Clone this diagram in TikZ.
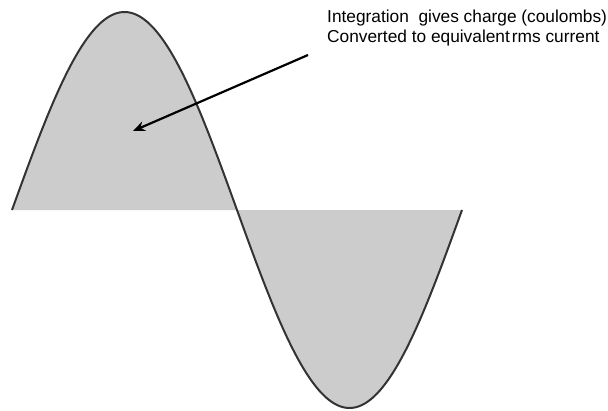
\documentclass[tikz,border=0pt]{standalone}
\usepackage{fontspec}
\setmainfont{Liberation Sans}
\usetikzlibrary{arrows.meta}
\definecolor{wavefill}{HTML}{CCCCCC}
\definecolor{wavestroke}{HTML}{333333}
\tikzset{
  wave/.style={draw=wavestroke, line width=2pt, line join=round},
  pointer/.style={draw=black, line width=2.2pt, -{Stealth[length=12pt,width=10pt]}},
  label/.style={font=\fontsize{17.3}{20.2}\selectfont, align=left, anchor=north west, inner sep=0pt}
}
\begin{document}
\begin{tikzpicture}[x=1pt,y=-1pt]
\useasboundingbox (0,0) rectangle (608,410);
\fill[wavefill] plot[domain=12:462, samples=181, smooth] (\x, {210-198*sin(0.8*(\x-12))}) -- cycle;
\draw[wave] plot[domain=12:462, samples=181, smooth] (\x, {210-198*sin(0.8*(\x-12))});
\coordinate (tail) at (308,55);
\coordinate (tip) at (133,131);
\draw[pointer] (tail) -- (tip);
\node[label] (txt) at (327,10) {Integration\ \ gives charge (coulombs)\\Converted to equivalent\hspace{0.12em}rms current};
\end{tikzpicture}
\end{document}
